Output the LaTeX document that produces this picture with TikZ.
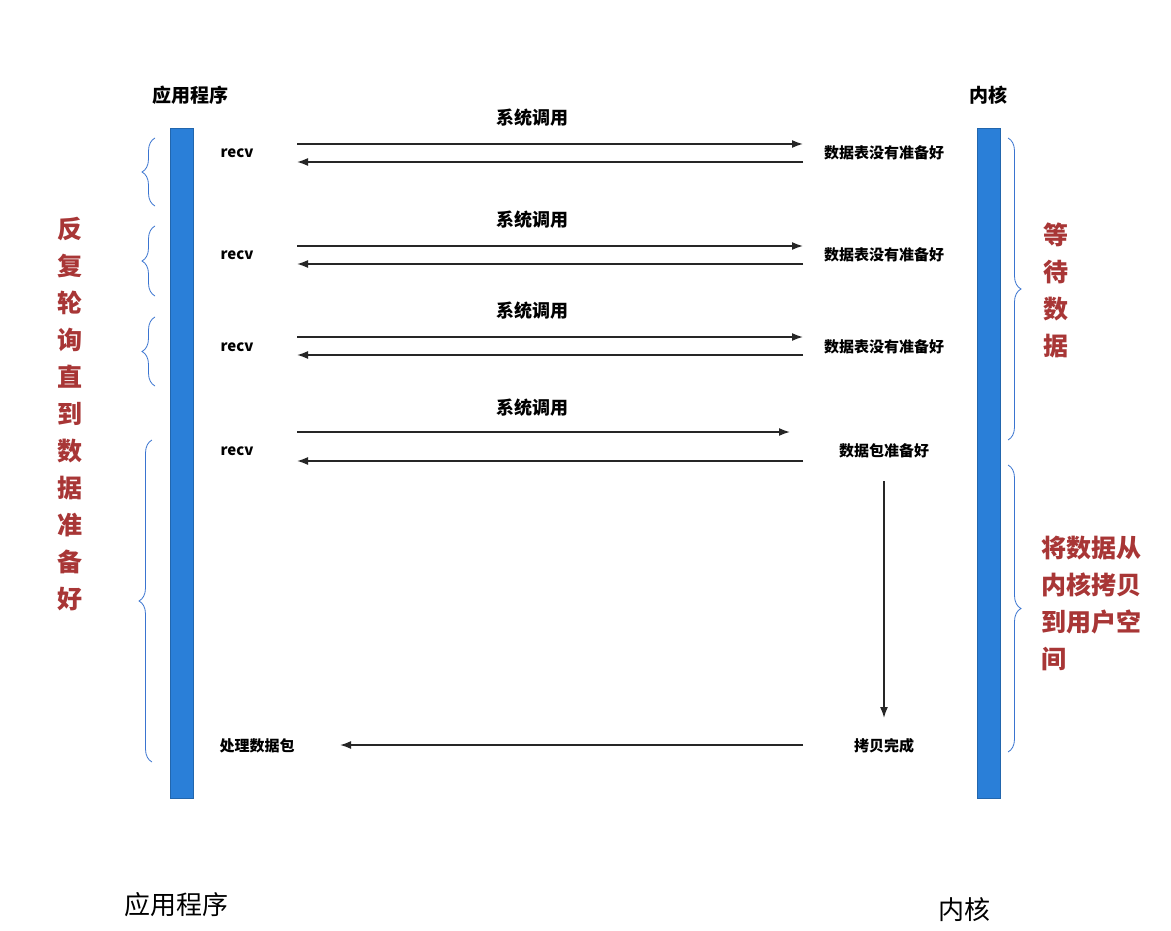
\documentclass[tikz,border=0pt]{standalone}
\usepackage{fontspec}
\setmainfont{Noto Sans CJK SC}
\usetikzlibrary{arrows.meta,decorations.pathreplacing}
\definecolor{barblue}{HTML}{2A7FD8}
\definecolor{brblue}{HTML}{3A74D0}
\definecolor{redtxt}{HTML}{A83636}
\begin{document}
\begin{tikzpicture}[x=1pt,y=-1pt,
  bar/.style={fill=barblue,draw=barblue!80!black,line width=0.6pt},
  lbl/.style={font=\fontsize{15}{18}\selectfont\bfseries,text=black,inner sep=1pt},
  sys/.style={font=\fontsize{18}{22}\selectfont\bfseries,inner sep=1pt},
  big/.style={font=\fontsize{25}{37}\selectfont\bfseries,text=redtxt,inner sep=0pt,align=left},
  arr/.style={draw=black!85,line width=1.6pt,-{Latex[length=11pt,width=8pt]}},
  br/.style={draw=brblue,line width=0.8pt,decorate,decoration={brace,amplitude=13pt}}]
\useasboundingbox (0,0) rectangle (1171,931);
\fill[white] (0,0) rectangle (1171,931);
\draw[bar] (170,128) rectangle (193,798);
\draw[bar] (977,128) rectangle (1000,798);
\node[lbl,font=\fontsize{19}{22}\selectfont\bfseries] (app) at (190,95) {应用程序};
\node[lbl,font=\fontsize{19}{22}\selectfont\bfseries] (ker) at (988,95) {内核};
% rows
\foreach \i/\a/\b/\t/\r in {1/144/162/118/153,2/246/264/220/255,3/337/355/311/347}{
  \node[sys] (s\i) at (532,\t) {系统调用};
  \node[lbl] (recv\i) at (237,\r) {recv};
  \node[lbl] (nr\i) at (884,\r) {数据表没有准备好};
  \coordinate (a\i) at (297,\a); \coordinate (ae\i) at (803,\a);
  \coordinate (b\i) at (803,\b); \coordinate (be\i) at (297,\b);
  \draw[arr] (a\i) -- (ae\i);
  \draw[arr] (b\i) -- (be\i);
}
\node[sys] (s4) at (532,408) {系统调用};
\node[lbl] (recv4) at (237,451) {recv};
\node[lbl] (ready) at (884,451) {数据包准备好};
\coordinate (a4) at (297,432); \coordinate (ae4) at (790,432);
\coordinate (b4) at (803,461); \coordinate (be4) at (297,461);
\draw[arr] (a4) -- (ae4);
\draw[arr] (b4) -- (be4);
\node[lbl] (done) at (884,746) {拷贝完成};
\node[lbl] (proc) at (257,746) {处理数据包};
\coordinate (v1) at (884,481); \coordinate (v2) at (884,718);
\draw[arr] (v1) -- (v2);
\coordinate (c1) at (803,745); \coordinate (c2) at (340,745);
\draw[arr] (c1) -- (c2);
% braces
\draw[br] (155,206) -- (155,138);
\draw[br] (155,296) -- (155,226);
\draw[br] (155,386) -- (155,317);
\draw[br] (152,762) -- (152,440);
\draw[br] (1008,138) -- (1008,440);
\draw[br] (1008,465) -- (1008,752);
% big texts
\node[big,align=center] (poll) at (70,414) {反\\复\\轮\\询\\直\\到\\数\\据\\准\\备\\好};
\node[big,align=center] (wait) at (1056,290) {等\\待\\数\\据};
\node[big,anchor=north west] (copy) at (1041,536) {将数据从\\内核拷贝\\到用户空\\间};
\node[font=\fontsize{26}{30}\selectfont,inner sep=0pt] (appb) at (176,905) {应用程序};
\node[font=\fontsize{26}{30}\selectfont,inner sep=0pt] (kerb) at (964,910) {内核};
\end{tikzpicture}
\end{document}
